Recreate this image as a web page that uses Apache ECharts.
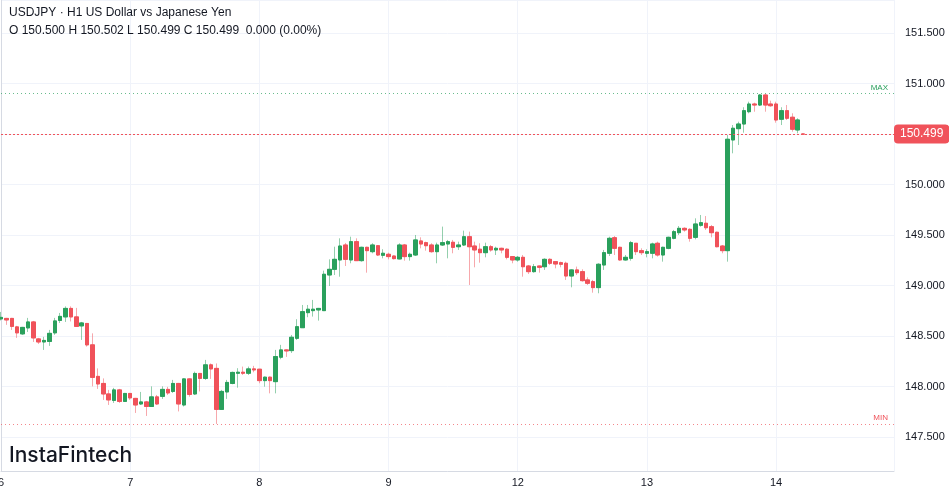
<!DOCTYPE html>
<html><head><meta charset="utf-8">
<script src="https://cdn.jsdelivr.net/npm/echarts@6/dist/echarts.min.js"></script>
<style>html,body{margin:0;padding:0;background:#fff}#c{width:949px;height:494px}</style>
</head><body><div id="c"></div>
<script>
const dayLabels = ['6', '7', '8', '9', '12', '13', '14'];
const opens = [148.669,148.674,148.674,148.590,148.521,148.580,148.639,148.471,148.441,148.446,
148.531,148.654,148.689,148.773,148.689,148.600,148.624,148.412,148.100,148.030,
147.926,147.862,147.966,147.852,147.931,147.882,147.827,147.847,147.802,147.897,
147.902,147.971,147.951,148.030,147.817,148.075,147.926,148.129,148.080,148.214,
148.179,147.773,147.946,148.030,148.131,148.141,148.131,148.174,148.171,148.058,
148.092,148.048,148.290,148.362,148.355,148.477,148.582,148.731,148.751,148.758,
148.751,149.104,149.160,149.253,149.401,149.253,149.434,149.246,149.378,149.335,
149.394,149.299,149.309,149.292,149.263,149.401,149.286,149.302,149.441,149.424,
149.401,149.335,149.401,149.411,149.428,149.384,149.401,149.483,149.391,149.359,
149.325,149.384,149.352,149.368,149.359,149.286,149.253,149.279,149.193,149.137,
149.193,149.186,149.259,149.236,149.226,149.220,149.094,149.154,149.137,149.055,
149.038,148.979,149.203,149.319,149.473,149.378,149.253,149.269,149.418,149.345,
149.319,149.319,149.418,149.302,149.368,149.467,149.523,149.566,149.556,149.477,
149.596,149.616,149.582,149.527,149.391,149.345,150.441,150.553,150.599,150.721,
150.797,150.787,150.886,150.797,150.797,150.646,150.731,150.666,150.540,150.500];
const closes = [148.684,148.659,148.595,148.531,148.585,148.639,148.481,148.441,148.456,148.526,
148.649,148.694,148.773,148.689,148.595,148.629,148.412,148.090,148.025,147.926,
147.867,147.966,147.852,147.931,147.887,147.817,147.847,147.802,147.897,147.827,
147.971,147.936,148.030,147.827,148.075,147.921,148.129,148.080,148.214,148.174,
147.773,147.951,148.040,148.139,148.141,148.131,148.174,148.164,148.058,148.092,
148.058,148.296,148.362,148.352,148.487,148.592,148.741,148.765,148.765,148.773,
149.111,149.160,149.259,149.391,149.259,149.434,149.246,149.378,149.345,149.401,
149.302,149.319,149.286,149.266,149.401,149.286,149.309,149.451,149.411,149.394,
149.335,149.401,149.424,149.434,149.378,149.401,149.483,149.384,149.352,149.325,
149.384,149.352,149.368,149.352,149.279,149.253,149.279,149.186,149.137,149.186,
149.180,149.259,149.220,149.213,149.210,149.094,149.154,149.127,149.048,149.022,
148.979,149.210,149.325,149.467,149.368,149.253,149.279,149.424,149.335,149.325,
149.335,149.411,149.302,149.378,149.477,149.533,149.566,149.550,149.467,149.609,
149.622,149.572,149.523,149.384,149.345,150.448,150.557,150.599,150.731,150.797,
150.787,150.886,150.787,150.780,150.639,150.731,150.656,150.547,150.639,150.499];
const lows = [148.654,148.610,148.560,148.481,148.511,148.540,148.441,148.421,148.362,148.402,
148.511,148.629,148.639,148.644,148.590,148.461,148.395,148.001,147.976,147.867,
147.817,147.837,147.837,147.847,147.867,147.738,147.817,147.708,147.797,147.817,
147.877,147.916,147.936,147.753,147.802,147.899,147.916,147.951,148.065,148.075,
147.629,147.768,147.877,148.022,147.988,148.114,148.114,148.141,148.032,147.998,
147.932,147.932,148.270,148.293,148.332,148.461,148.580,148.686,148.692,148.652,
148.748,148.995,149.104,149.087,149.193,149.220,149.243,149.236,149.127,149.319,
149.292,149.269,149.259,149.258,149.259,149.246,149.246,149.292,149.368,149.345,
149.325,149.220,149.391,149.269,149.319,149.352,149.391,149.005,149.180,149.226,
149.279,149.335,149.302,149.319,149.259,149.220,149.236,149.087,149.114,149.127,
149.127,149.154,149.203,149.170,149.180,149.055,148.982,149.104,149.038,149.005,
148.929,148.923,149.154,149.292,149.302,149.246,149.246,149.246,149.302,149.302,
149.279,149.269,149.286,149.236,149.359,149.457,149.500,149.533,149.434,149.457,
149.582,149.550,149.477,149.378,149.319,149.236,150.309,150.391,150.513,150.705,
150.721,150.777,150.721,150.770,150.612,150.589,150.639,150.523,150.507,150.499];
const highs = [148.738,148.679,148.679,148.600,148.590,148.679,148.649,148.481,148.491,148.560,
148.679,148.728,148.793,148.793,148.778,148.639,148.629,148.526,148.179,148.080,
147.966,147.986,147.976,147.936,147.936,147.887,147.946,147.857,148.001,147.916,
148.001,147.996,148.065,148.035,148.080,148.080,148.147,148.134,148.263,148.228,
148.228,147.966,148.065,148.147,148.181,148.197,148.197,148.204,148.174,148.098,
148.098,148.362,148.412,148.367,148.510,148.666,148.807,148.807,148.857,148.778,
149.147,149.259,149.384,149.467,149.421,149.483,149.467,149.384,149.384,149.418,
149.401,149.359,149.325,149.297,149.418,149.411,149.325,149.500,149.477,149.434,
149.418,149.424,149.583,149.451,149.451,149.434,149.543,149.533,149.434,149.418,
149.424,149.401,149.384,149.374,149.368,149.292,149.292,149.302,149.203,149.213,
149.196,149.269,149.269,149.236,149.236,149.236,149.160,149.187,149.160,149.081,
149.055,149.220,149.352,149.483,149.490,149.384,149.302,149.441,149.418,149.368,
149.359,149.424,149.434,149.384,149.483,149.550,149.589,149.576,149.566,149.665,
149.698,149.688,149.599,149.533,149.401,150.491,150.589,150.622,150.765,150.820,
150.810,150.896,150.896,150.830,150.820,150.765,150.787,150.705,150.656,150.502];

const UP = '#2aa05c', DOWN = '#f0525a';
const UP_W = 'rgba(42,160,92,0.5)', DOWN_W = 'rgba(240,82,90,0.5)';
const candles = opens.map((o, i) => [i, o, closes[i], lows[i], highs[i]]);
const bodies = opens.map((o, i) => [i, o, closes[i], Math.min(o, closes[i]), Math.max(o, closes[i])]);
const lastClose = closes[closes.length - 1];
const maxHigh = Math.max(...highs);
const minLow = Math.min(...lows);
const FONT = '"Liberation Sans", Arial, sans-serif';

const chart = echarts.init(document.getElementById('c'), null, {renderer: 'canvas'});
chart.setOption({
  animation: false,
  backgroundColor: '#ffffff',
  grid: {left: 1, right: 55, top: 0, bottom: 23, containLabel: false, outerBoundsMode: 'none'},
  xAxis: {
    type: 'value', min: 0, max: 165.9, interval: 24,
    axisLine: {show: true, lineStyle: {color: '#d6dae3'}},
    axisTick: {show: false},
    splitLine: {show: true, lineStyle: {color: '#f0f3fa'}},
    axisLabel: {
      color: '#131722', fontSize: 11, fontFamily: FONT, margin: 6, showMaxLabel: false, hideOverlap: false,
      formatter: v => { const k = Math.round(v / 24); return (v % 24 === 0 && dayLabels[k] != null) ? dayLabels[k] : ''; }
    }
  },
  yAxis: {
    type: 'value', position: 'right', min: 147.163, max: 151.827,
    minInterval: 0.5, maxInterval: 0.5, scale: true,
    axisLine: {show: true, lineStyle: {color: '#d6dae3'}},
    axisTick: {show: false},
    splitLine: {show: true, lineStyle: {color: '#f0f3fa'}},
    axisLabel: {color: '#131722', fontSize: 11, fontFamily: FONT, margin: 11,
      showMinLabel: false, showMaxLabel: false,
      formatter: v => v.toFixed(3)}
  },
  series: [
    {
      type: 'candlestick', data: candles, encode: {x: 0, y: [1, 2, 3, 4]},
      barWidth: 4, silent: true,
      itemStyle: {color: UP_W, color0: DOWN_W, borderColor: UP_W, borderColor0: DOWN_W, borderWidth: 1}
    },
    {
      type: 'candlestick', data: bodies, encode: {x: 0, y: [1, 2, 3, 4]},
      barWidth: 4, silent: true,
      itemStyle: {color: UP, color0: DOWN, borderColor: UP, borderColor0: DOWN, borderWidth: 1},
      markLine: {
        silent: true, symbol: ['none', 'none'], animation: false,
        data: [
          {yAxis: maxHigh, lineStyle: {color: 'rgba(42,160,92,0.7)', type: [1, 3], width: 1},
           label: {show: true, position: 'insideEndTop', formatter: 'MAX', color: UP, fontSize: 8, fontFamily: FONT, distance: [6, 2]}},
          {yAxis: minLow, lineStyle: {color: 'rgba(240,82,90,0.7)', type: [1, 3], width: 1},
           label: {show: true, position: 'insideEndTop', formatter: 'MIN', color: DOWN, fontSize: 8, fontFamily: FONT, distance: [6, 2]}},
          {yAxis: lastClose, lineStyle: {color: '#f0525a', type: [2, 2], width: 1},
           label: {show: true, position: 'end', formatter: lastClose.toFixed(3), color: '#ffffff',
             backgroundColor: '#f0525a', borderRadius: 4, padding: [4, 6, 3, 6], fontSize: 12, fontFamily: FONT, distance: 0}}
        ]
      }
    }
  ],
  graphic: [
    {type: 'text', z: 100, left: 9, top: 7, style: {text: 'USDJPY · H1 US Dollar vs Japanese Yen', fill: '#131722', font: '12px ' + FONT}},
    {type: 'text', z: 100, left: 9, top: 25, style: {text: 'O 150.500 H 150.502 L 150.499 C 150.499  0.000 (0.00%)', fill: '#131722', font: '12px ' + FONT}},
    {type: 'text', z: 100, left: 9, top: 445, style: {text: 'InstaFintech', fill: '#131722', font: '500 21px Inter, "Noto Sans", sans-serif'}}
  ]
});
</script></body></html>
